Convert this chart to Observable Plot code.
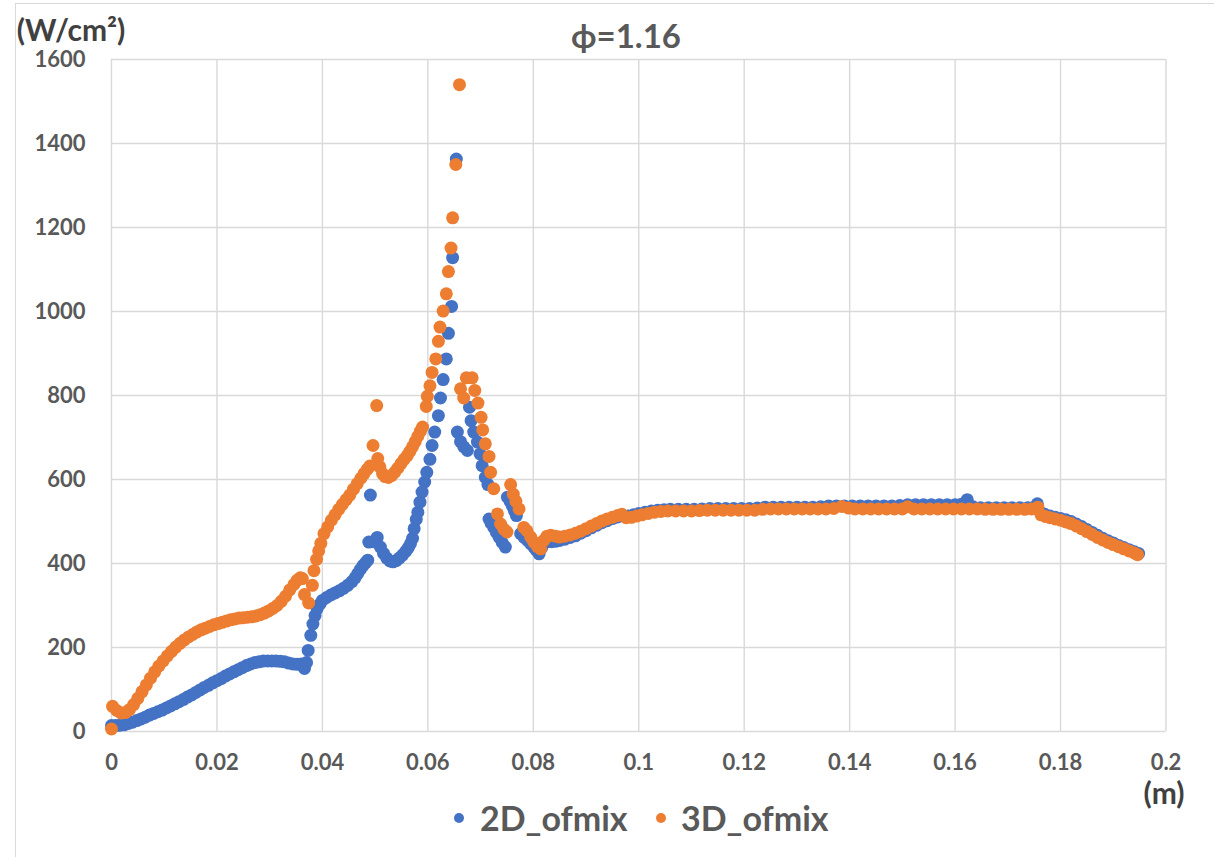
<!DOCTYPE html>
<html><head><meta charset="utf-8">
<script src="https://cdn.jsdelivr.net/npm/d3@7"></script>
<script src="https://cdn.jsdelivr.net/npm/@observablehq/plot@0.6"></script>
<style>
body{margin:0;background:#fff;}
#wrap{position:relative;width:1214px;height:857px;overflow:hidden;font-family:Lato,"Open Sans",sans-serif;font-weight:700;}
#frame{position:absolute;left:15px;top:3px;width:1210px;height:870px;border:1px solid #d9d9d9;box-sizing:border-box;}
#chart{position:absolute;left:0;top:0;}
.lbl{position:absolute;white-space:nowrap;line-height:1;transform:translate(-50%,-50%);}
.sw{position:absolute;width:10px;height:10px;border-radius:50%;}
</style></head>
<body><div id="wrap"><div id="frame"></div><div id="chart"></div></div>
<script>
const title = "ϕ=1.16";
const yUnit = "(W/cm²)";
const xUnit = "(m)";
const seriesNames = ["2D_ofmix", "3D_ofmix"];
const seriesColors = ["#4472C4", "#ED7D31"];
const xTicks = [0, 0.02, 0.04, 0.06, 0.08, 0.1, 0.12, 0.14, 0.16, 0.18, 0.2];
const xTickLabels = ["0", "0.02", "0.04", "0.06", "0.08", "0.1", "0.12", "0.14", "0.16", "0.18", "0.2"];
const yTicks = [0, 200, 400, 600, 800, 1000, 1200, 1400, 1600];

// 2D_ofmix: [x (m), heat flux (W/cm²)]
const blue2D = [[0,14],[0.0008,14],[0.0016,15],[0.0024,16],[0.0032,19],[0.004,22],[0.0048,26],[0.0056,30],[0.0064,34],[0.0072,39],[0.008,43],[0.0088,47],[0.0096,51],[0.0104,56],[0.0112,61],[0.012,66],[0.0128,71],[0.0136,76],[0.0144,82],[0.0152,87],[0.016,93],[0.0168,99],[0.0176,105],[0.0184,110],[0.0192,116],[0.02,121],[0.0208,126],[0.0216,132],[0.0224,137],[0.0232,142],[0.024,147],[0.0248,152],[0.0256,157],[0.0264,161],[0.0272,164],[0.028,166],[0.0288,168],[0.0296,168],[0.0304,168],[0.0312,168],[0.032,167],[0.0328,166],[0.0336,163],[0.0344,161],[0.0352,160],[0.036,161],[0.0366,150],[0.037,164],[0.0373,193],[0.0378,229],[0.0382,256],[0.0386,276],[0.039,292],[0.0395,303],[0.04,312],[0.0408,319],[0.0416,325],[0.0424,330],[0.0432,335],[0.044,341],[0.0448,348],[0.0456,357],[0.0462,366],[0.0467,376],[0.0472,386],[0.0477,395],[0.0482,402],[0.0486,408],[0.0488,451],[0.0491,563],[0.0496,452],[0.0504,462],[0.051,439],[0.0516,424],[0.0522,413],[0.0528,406],[0.0534,404],[0.054,407],[0.0546,413],[0.0552,420],[0.0558,429],[0.0563,438],[0.0567,447],[0.0571,460],[0.0574,483],[0.0578,505],[0.0581,522],[0.0585,546],[0.0589,570],[0.0594,594],[0.0598,617],[0.0604,648],[0.0608,681],[0.0613,713],[0.062,752],[0.0624,794],[0.0629,838],[0.0635,887],[0.0639,948],[0.0645,1012],[0.0647,1128],[0.0654,1363],[0.0656,713],[0.0662,690],[0.0668,678],[0.0675,669],[0.0679,772],[0.0682,740],[0.0687,713],[0.0694,689],[0.0699,661],[0.0703,633],[0.0709,605],[0.0714,588],[0.0716,506],[0.072,496],[0.0725,486],[0.073,474],[0.0735,463],[0.0741,450],[0.0747,439],[0.0751,558],[0.0756,548],[0.076,538],[0.0764,526],[0.0768,514],[0.0776,471],[0.0782,463],[0.0789,455],[0.0795,447],[0.0801,439],[0.0806,431],[0.0811,423],[0.0816,438],[0.082,449],[0.0827,452],[0.0835,452],[0.0843,453],[0.085,455],[0.086,458],[0.087,462],[0.088,466],[0.089,472],[0.09,478],[0.091,485],[0.092,491],[0.093,497],[0.094,502],[0.095,507],[0.096,511],[0.097,514],[0.098,513],[0.099,516],[0.1,519],[0.1012,522],[0.1024,525],[0.1036,527],[0.1048,528],[0.106,529],[0.1075,529],[0.109,529],[0.1105,529],[0.112,530],[0.1135,531],[0.115,531],[0.1165,531],[0.118,531],[0.1195,531],[0.121,531],[0.1225,532],[0.124,534],[0.1255,534],[0.127,534],[0.1285,534],[0.13,534],[0.1315,534],[0.133,534],[0.1345,535],[0.136,537],[0.1375,537],[0.139,537],[0.1405,537],[0.142,537],[0.1435,537],[0.145,537],[0.1465,537],[0.148,537],[0.1495,538],[0.151,540],[0.1525,540],[0.154,540],[0.1555,540],[0.157,540],[0.1585,540],[0.16,540],[0.1612,541],[0.1623,552],[0.1634,535],[0.1648,533],[0.1663,533],[0.1678,533],[0.1693,533],[0.1708,533],[0.1723,533],[0.1738,533],[0.175,534],[0.1756,542],[0.1762,522],[0.177,517],[0.178,513],[0.179,510],[0.18,507],[0.181,504],[0.182,500],[0.183,494],[0.184,488],[0.185,481],[0.186,474],[0.187,467],[0.188,460],[0.189,454],[0.19,449],[0.191,443],[0.192,438],[0.193,433],[0.194,428],[0.1948,424]];

// 3D_ofmix: [x (m), heat flux (W/cm²)]
const orange3D = [[0,6],[0.0002,60],[0.001,50],[0.0018,44],[0.0026,45],[0.0034,52],[0.0042,64],[0.005,79],[0.0058,95],[0.0066,111],[0.0074,127],[0.0082,142],[0.009,156],[0.0098,168],[0.0106,180],[0.0114,191],[0.0122,201],[0.013,210],[0.0138,218],[0.0146,225],[0.0154,231],[0.0162,237],[0.017,242],[0.0178,246],[0.0186,250],[0.0194,254],[0.0202,257],[0.021,260],[0.0218,263],[0.0226,266],[0.0234,268],[0.0242,270],[0.025,271],[0.0258,272],[0.0266,273],[0.0274,275],[0.0282,278],[0.029,282],[0.0298,287],[0.0306,293],[0.0314,300],[0.0322,310],[0.033,322],[0.0338,337],[0.0346,350],[0.0352,360],[0.0358,366],[0.0362,364],[0.0366,326],[0.0374,306],[0.0381,348],[0.0384,383],[0.0389,410],[0.0393,430],[0.0397,448],[0.0403,471],[0.041,487],[0.0417,503],[0.0424,516],[0.0431,529],[0.0438,541],[0.0445,552],[0.0452,563],[0.0459,577],[0.0466,590],[0.0473,603],[0.0479,614],[0.0485,624],[0.049,632],[0.0496,681],[0.0503,776],[0.0505,650],[0.0509,630],[0.0514,614],[0.0519,607],[0.0525,605],[0.0531,609],[0.0537,617],[0.0543,627],[0.0549,638],[0.0555,648],[0.0561,657],[0.0566,667],[0.0571,678],[0.0576,690],[0.0581,703],[0.0586,715],[0.059,725],[0.0597,774],[0.0599,798],[0.0604,823],[0.0608,855],[0.0615,887],[0.062,929],[0.0623,963],[0.0629,1001],[0.0635,1042],[0.0639,1095],[0.0644,1151],[0.0647,1223],[0.0653,1350],[0.066,1540],[0.0662,816],[0.0668,794],[0.0673,842],[0.0684,842],[0.0689,812],[0.0695,782],[0.0701,748],[0.0704,718],[0.0709,685],[0.0716,655],[0.0719,617],[0.0725,578],[0.0732,518],[0.0738,494],[0.0744,482],[0.075,475],[0.0757,588],[0.0762,565],[0.0767,548],[0.0773,530],[0.0782,486],[0.0788,478],[0.0795,463],[0.0801,451],[0.0808,440],[0.0814,435],[0.082,455],[0.0826,465],[0.0833,467],[0.0842,465],[0.085,463],[0.086,465],[0.087,468],[0.088,472],[0.089,477],[0.09,483],[0.091,489],[0.092,495],[0.093,501],[0.094,506],[0.095,510],[0.096,514],[0.0968,517],[0.0976,509],[0.0986,510],[0.0996,513],[0.1006,516],[0.1018,519],[0.103,522],[0.1042,524],[0.1055,525],[0.107,525],[0.1085,525],[0.11,525],[0.1115,526],[0.113,527],[0.1145,527],[0.116,527],[0.1175,527],[0.119,527],[0.1205,527],[0.122,527],[0.1235,529],[0.125,530],[0.1265,530],[0.128,530],[0.1295,530],[0.131,530],[0.1325,530],[0.134,530],[0.1355,530],[0.137,531],[0.1385,536],[0.1398,532],[0.141,530],[0.1425,530],[0.144,530],[0.1455,530],[0.147,530],[0.1485,530],[0.15,530],[0.151,535],[0.1522,530],[0.1537,530],[0.1552,530],[0.1567,530],[0.1582,530],[0.1597,530],[0.1612,530],[0.1627,530],[0.1642,530],[0.1657,529],[0.1672,529],[0.1687,529],[0.1702,529],[0.1717,529],[0.1732,529],[0.1745,530],[0.1757,534],[0.1763,516],[0.1771,512],[0.178,509],[0.179,506],[0.18,503],[0.181,499],[0.182,495],[0.183,489],[0.184,483],[0.185,476],[0.186,469],[0.187,462],[0.188,456],[0.189,450],[0.19,445],[0.191,440],[0.192,435],[0.193,430],[0.194,425],[0.1946,421]];

const blue = blue2D.map(([x, y]) => ({x, y}));
const orange = orange3D.map(([x, y]) => ({x, y}));

const FONT = "Lato, 'Open Sans', sans-serif";
const chart = Plot.plot({
  width: 1214,
  height: 790,
  marginLeft: 111,
  marginRight: 48.5,
  marginTop: 59,
  marginBottom: 59,
  style: {fontFamily: FONT, fontSize: "22px", fontWeight: 700, color: "#595959", background: "transparent", overflow: "visible"},
  x: {domain: [0, 0.2], label: null},
  y: {domain: [0, 1600], label: null},
  marks: [
    Plot.gridX(xTicks, {stroke: "#d9d9d9", strokeOpacity: 1, strokeWidth: 1.4}),
    Plot.gridY(yTicks, {stroke: "#d9d9d9", strokeOpacity: 1, strokeWidth: 1.4}),
    Plot.axisX(xTicks, {tickSize: 0, tickPadding: 23, label: null, tickFormat: d => xTickLabels[xTicks.indexOf(d)]}),
    Plot.axisY(yTicks, {tickSize: 0, tickPadding: 26, label: null, tickFormat: d => String(d)}),
    Plot.dot(blue, {x: "x", y: "y", r: 6.5, fill: seriesColors[0], stroke: "none"}),
    Plot.dot(orange, {x: "x", y: "y", r: 6.5, fill: seriesColors[1], stroke: "none"})
  ]
});
const wrap = document.getElementById("wrap");
document.getElementById("chart").appendChild(chart);

function addLabel(text, cx, cy, size, color) {
  const d = document.createElement("div");
  d.className = "lbl";
  d.textContent = text;
  d.style.left = cx + "px";
  d.style.top = cy + "px";
  d.style.fontSize = size + "px";
  d.style.color = color;
  wrap.appendChild(d);
}
addLabel(title, 626, 35, 33, "#595959");
addLabel(yUnit, 71, 29, 30, "#404040");
addLabel(xUnit, 1164, 792, 30, "#404040");

const legendPos = [[459, 480], [661, 681]];
seriesNames.forEach((name, i) => {
  const sw = document.createElement("div");
  sw.className = "sw";
  sw.style.background = seriesColors[i];
  sw.style.left = (legendPos[i][0] - 5) + "px";
  sw.style.top = (818 - 5) + "px";
  wrap.appendChild(sw);
  const t = document.createElement("div");
  t.className = "lbl";
  t.textContent = name;
  t.style.transform = "translate(0,-50%)";
  t.style.left = legendPos[i][1] + "px";
  t.style.top = "818px";
  t.style.fontSize = "34px";
  t.style.color = "#595959";
  wrap.appendChild(t);
});
</script>
</body></html>
